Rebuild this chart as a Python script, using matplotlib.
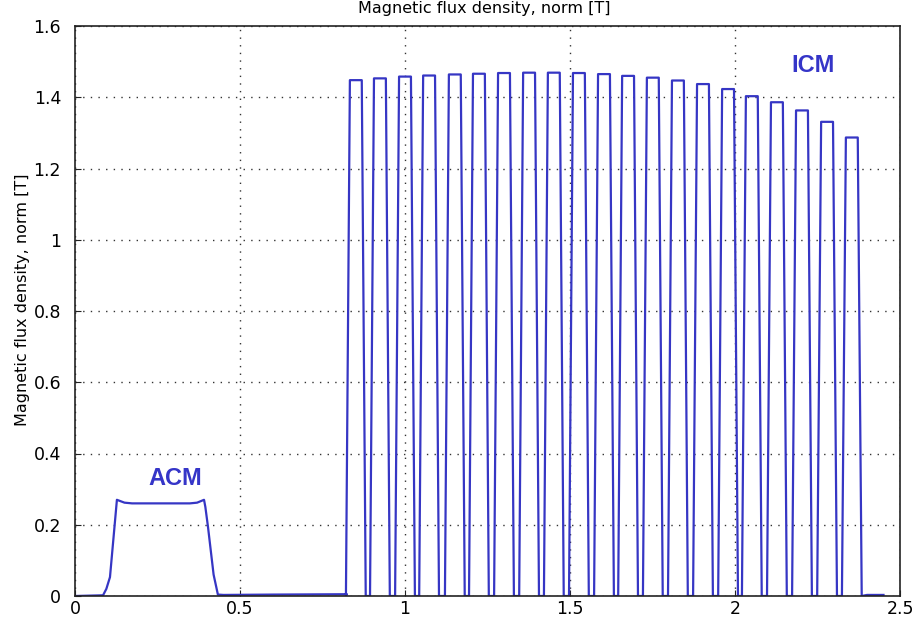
import numpy as np
import matplotlib.pyplot as plt

# ACM pulse (time in s, flux density in T)
acm_t = [0.0, 0.085, 0.095, 0.106, 0.127, 0.150, 0.173, 0.348, 0.370, 0.391,
         0.395, 0.403, 0.420, 0.433, 0.450, 0.600, 0.824]
acm_b = [0.0, 0.002, 0.020, 0.053, 0.270, 0.262, 0.260, 0.260, 0.262, 0.270,
         0.250, 0.194, 0.060, 0.004, 0.003, 0.004, 0.005]

# ICM pulse train: start of each flat top and its peak value
icm_start = [0.833, 0.906, 0.982, 1.055, 1.133, 1.206, 1.282, 1.358, 1.433, 1.509,
             1.585, 1.658, 1.733, 1.809, 1.885, 1.961, 2.033, 2.109, 2.185, 2.261, 2.336]
icm_peak = [1.448, 1.453, 1.458, 1.461, 1.464, 1.466, 1.468, 1.469, 1.469, 1.468,
            1.465, 1.460, 1.455, 1.447, 1.437, 1.423, 1.403, 1.386, 1.363, 1.331, 1.287]

# tail after the last pulse
tail_t = [2.400, 2.450]
tail_b = [0.003, 0.003]

rise = 0.012
top = 0.036

t = list(acm_t)
b = list(acm_b)
for s, h in zip(icm_start, icm_peak):
    t += [s - rise, s, s + top, s + top + rise]
    b += [0.0, h, h, 0.0]
t += tail_t
b += tail_b

fig = plt.figure(figsize=(9.14, 6.26), dpi=100)
ax = fig.add_axes([75 / 914, 30 / 626, 825 / 914, 570 / 626])

line_color = '#3636c4'
ax.plot(t, b, color=line_color, lw=1.6)

ax.set_xlim(0, 2.5)
ax.set_ylim(0, 1.6)
ax.set_xticks([0, 0.5, 1, 1.5, 2, 2.5])
ax.set_xticklabels(['0', '0.5', '1', '1.5', '2', '2.5'])
ax.set_yticks([0, 0.2, 0.4, 0.6, 0.8, 1.0, 1.2, 1.4, 1.6])
ax.set_yticklabels(['0', '0.2', '0.4', '0.6', '0.8', '1', '1.2', '1.4', '1.6'])
ax.tick_params(direction='in', length=4, labelsize=12.5, color='#222222')
ax.tick_params(axis='x', pad=3)
ax.tick_params(axis='y', pad=10)
for sp in ax.spines.values():
    sp.set_color('#222222')
    sp.set_linewidth(1.2)

ax.grid(True, color='#333333', linestyle=(0, (1, 4.5)), linewidth=1.0)

ax.set_ylabel('Magnetic flux density, norm [T]', fontsize=11.5)
ax.yaxis.set_label_coords(-0.054, 0.52)

# title sits partly above the top edge of the figure
fig.text(484 / 914, 1 - 13 / 626, 'Magnetic flux density, norm [T]',
         ha='center', va='baseline', fontsize=11.5)

label_color = '#3535c8'
ax.text(0.303, 0.331, 'ACM', color=label_color, fontsize=17, fontweight='bold',
        family='Liberation Sans', ha='center', va='center')
ax.text(2.236, 1.488, 'ICM', color=label_color, fontsize=17, fontweight='bold',
        family='Liberation Sans', ha='center', va='center')

plt.savefig('out.png', dpi=100)
